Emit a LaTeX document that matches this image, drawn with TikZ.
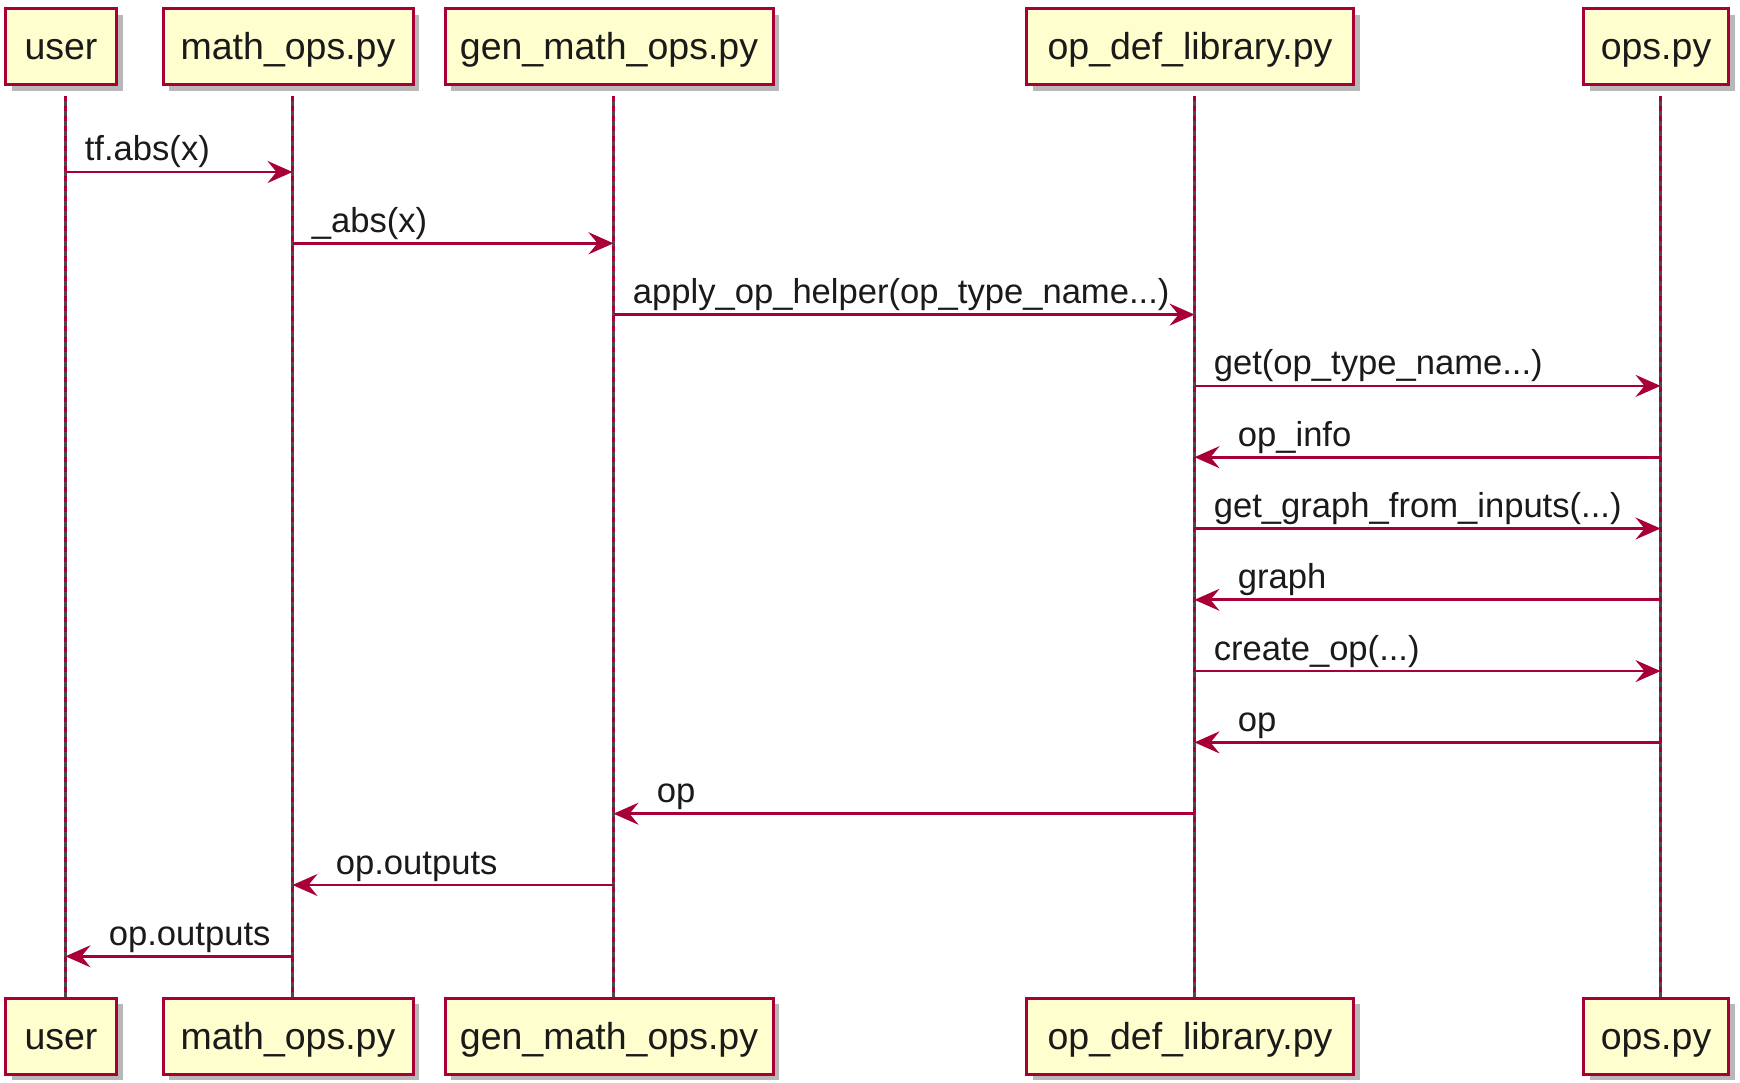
\documentclass[tikz,border=0pt]{standalone}
\usepackage{fontspec}
\setmainfont{Liberation Sans}
\usetikzlibrary{arrows.meta,shadows}
\definecolor{pred}{HTML}{A80036}
\definecolor{pfill}{HTML}{FEFECE}
\definecolor{ptext}{HTML}{1A1A1A}
\begin{document}
\begin{tikzpicture}[x=1pt,y=-1pt,
  part/.style={draw=pred, fill=pfill, line width=3pt, minimum height=76pt, inner sep=0pt,
    text=ptext, font=\fontsize{37.5}{44}\selectfont, text height=27pt, text depth=1pt,
    drop shadow={shadow xshift=6pt, shadow yshift=-6pt, fill=black, opacity=0.28}},
  lifeline/.style={line width=2.6pt, draw=black!70, shorten <=10pt,
    postaction={draw=pred, shorten <=10pt, dash pattern=on 5pt off 5pt}},
  msg/.style={draw=pred, line width=2.7pt, -{Stealth[length=25pt, width=22pt, inset=9pt]}},
  lbl/.style={text=ptext, font=\fontsize{34.6}{40}\selectfont, inner sep=0pt},
  rlbl/.style={lbl, pos=0, anchor=base west, xshift=18pt, yshift=11pt},
  llbl/.style={lbl, pos=1, anchor=base west, xshift=42pt, yshift=11pt}
]
\useasboundingbox[fill=white] (0,0) rectangle (1740,1083);

% participants (top)
\node[part, minimum width=111pt] (ut) at (61,47) {user};
\node[part, minimum width=250pt] (mt) at (288,47) {math\_ops.py};
\node[part, minimum width=328pt] (gt) at (609,47) {gen\_math\_ops.py};
\node[part, minimum width=327pt] (dt) at (1190,47) {op\_def\_library.py};
\node[part, minimum width=145pt] (ot) at (1656,47) {ops.py};
% participants (bottom)
\node[part, minimum width=111pt] (ub) at (61,1036) {user};
\node[part, minimum width=250pt] (mb) at (288,1036) {math\_ops.py};
\node[part, minimum width=328pt] (gb) at (609,1036) {gen\_math\_ops.py};
\node[part, minimum width=327pt] (db) at (1190,1036) {op\_def\_library.py};
\node[part, minimum width=145pt] (ob) at (1656,1036) {ops.py};

% lifeline anchors (slightly right of box centres, as in the reference)
\coordinate (ux) at ([xshift=4.5pt]ut.south);
\coordinate (mx) at ([xshift=4.5pt]mt.south);
\coordinate (gx) at ([xshift=4.5pt]gt.south);
\coordinate (dx) at ([xshift=4.5pt]dt.south);
\coordinate (ox) at ([xshift=4.5pt]ot.south);

% lifelines
\draw[lifeline] (ux) -- (ux |- ub.north);
\draw[lifeline] (mx) -- (mx |- mb.north);
\draw[lifeline] (gx) -- (gx |- gb.north);
\draw[lifeline] (dx) -- (dx |- db.north);
\draw[lifeline] (ox) -- (ox |- ob.north);

% message rows
\coordinate (m1) at (0,172);
\coordinate (m2) at (0,243.3);
\coordinate (m3) at (0,314.6);
\coordinate (m4) at (0,385.9);
\coordinate (m5) at (0,457.2);
\coordinate (m6) at (0,528.5);
\coordinate (m7) at (0,599.8);
\coordinate (m8) at (0,671.1);
\coordinate (m9) at (0,742.4);
\coordinate (m10) at (0,813.7);
\coordinate (m11) at (0,885);
\coordinate (m12) at (0,956.3);

\draw[msg] (ux |- m1) -- (mx |- m1) node[rlbl] (l1) {tf.abs(x)};
\draw[msg] (mx |- m2) -- (gx |- m2) node[rlbl] (l2) {\_abs(x)};
\draw[msg] (gx |- m3) -- (dx |- m3) node[rlbl] (l3) {apply\_op\_helper(op\_type\_name...)};
\draw[msg] (dx |- m4) -- (ox |- m4) node[rlbl] (l4) {get(op\_type\_name...)};
\draw[msg] (ox |- m5) -- (dx |- m5) node[llbl] (l5) {op\_info};
\draw[msg] (dx |- m6) -- (ox |- m6) node[rlbl] (l6) {get\_graph\_from\_inputs(...)};
\draw[msg] (ox |- m7) -- (dx |- m7) node[llbl] (l7) {graph};
\draw[msg] (dx |- m8) -- (ox |- m8) node[rlbl] (l8) {create\_op(...)};
\draw[msg] (ox |- m9) -- (dx |- m9) node[llbl] (l9) {op};
\draw[msg] (dx |- m10) -- (gx |- m10) node[llbl] (l10) {op};
\draw[msg] (gx |- m11) -- (mx |- m11) node[llbl] (l11) {op.outputs};
\draw[msg] (mx |- m12) -- (ux |- m12) node[llbl] (l12) {op.outputs};
\end{tikzpicture}
\end{document}
